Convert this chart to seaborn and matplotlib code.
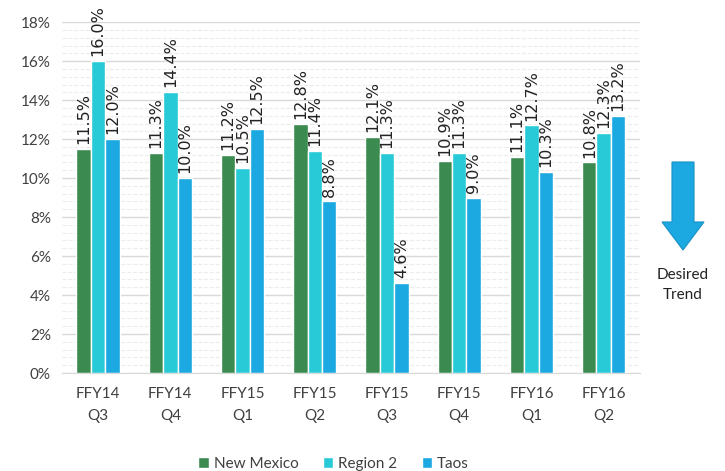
import numpy as np
import pandas as pd
import matplotlib
matplotlib.use("Agg")
import matplotlib.pyplot as plt
import seaborn as sns
from matplotlib.ticker import MultipleLocator, FuncFormatter
from matplotlib.patches import FancyArrow

# %% Data.
quarters = ['FFY14\nQ3', 'FFY14\nQ4', 'FFY15\nQ1', 'FFY15\nQ2',
            'FFY15\nQ3', 'FFY15\nQ4', 'FFY16\nQ1', 'FFY16\nQ2']
new_mexico = [11.5, 11.3, 11.2, 12.8, 12.1, 10.9, 11.1, 10.8]
region_2 = [16.0, 14.4, 10.5, 11.4, 11.3, 11.3, 12.7, 12.3]
taos = [12.0, 10.0, 12.5, 8.8, 4.6, 9.0, 10.3, 13.2]
series = ['New Mexico', 'Region 2', 'Taos']
colors = ['#3b8a50', '#27cad6', '#1ca8e0']

df = pd.DataFrame({'quarter': quarters * 3,
                   'series': np.repeat(series, len(quarters)),
                   'value': new_mexico + region_2 + taos})

# %% Draw.
sns.set_style('white')
plt.rcParams['font.family'] = ['Lato', 'DejaVu Sans']

fig = plt.figure(figsize=(7.25, 4.71), dpi=100)
ax = fig.add_axes([0.0855, 0.208, 0.797, 0.745])
sns.barplot(data=df, x='quarter', y='value', hue='series', palette=colors,
            width=0.6, saturation=1, ax=ax, legend=True)

ax.set_ylim(0, 18)
ax.yaxis.set_major_locator(MultipleLocator(2))
ax.yaxis.set_minor_locator(MultipleLocator(0.4))
ax.yaxis.set_major_formatter(FuncFormatter(lambda v, p: f'{v:.0f}%'))
ax.grid(axis='y', which='major', color='#d9d9d9', lw=1)
ax.grid(axis='y', which='minor', color='#ececec', lw=0.8, ls='--')
ax.set_axisbelow(True)
for s in ['top', 'right', 'left']:
    ax.spines[s].set_visible(False)
ax.spines['bottom'].set_color('#d9d9d9')
ax.tick_params(axis='both', which='both', length=0, labelsize=11, colors='#404040', pad=8)
ax.tick_params(axis='x', pad=10)
for lbl in ax.get_xticklabels():
    lbl.set_linespacing(1.7)
ax.set_xlabel('')
ax.set_ylabel('')

for cont in ax.containers:
    for bar in cont:
        h = bar.get_height()
        ax.text(bar.get_x() + bar.get_width() / 2, h + 0.25, f'{h:.1f}%',
                rotation=90, ha='center', va='bottom', fontsize=11.5,
                family=['Liberation Sans Narrow', 'DejaVu Sans'], color='#222222')

ax.legend(loc='upper center', bbox_to_anchor=(0.47, -0.2), ncol=3, frameon=False,
          fontsize=11, handlelength=0.7, handleheight=0.7, handletextpad=0.3,
          columnspacing=1.6, labelcolor='#404040')

# Desired trend arrow
fig.patches.append(FancyArrow(683 / 725, 1 - 162 / 471, 0, -88 / 471, width=22 / 725,
                              head_width=42 / 725, head_length=28 / 471,
                              length_includes_head=True, transform=fig.transFigure,
                              facecolor='#1ca8e0', edgecolor='#1890c4', lw=0.8))
fig.text(683 / 725, 1 - 285 / 471, 'Desired\nTrend', ha='center', va='center',
         fontsize=11, color='#222222', linespacing=1.6)

fig.savefig('out.png', dpi=100)
